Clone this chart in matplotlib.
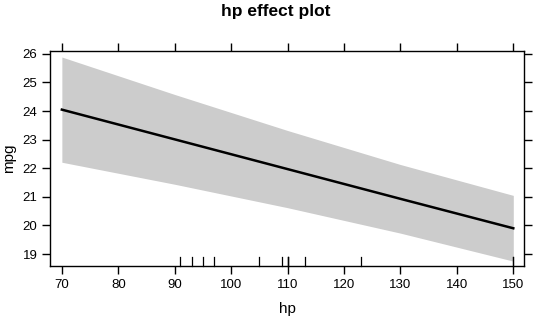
import matplotlib
matplotlib.use("Agg")
from matplotlib import pyplot as plt

plt.rcParams['font.family'] = ['Liberation Sans', 'DejaVu Sans']

# effect of hp on mpg, with confidence band
hp = [70, 90, 110, 130, 150]
fit = [24.05, 23.01, 21.97, 20.93, 19.90]
upper = [25.89, 24.58, 23.32, 22.13, 21.05]
lower = [22.21, 21.44, 20.62, 19.73, 18.75]

# observed hp values (rug)
rug_hp = [91, 93, 95, 97, 105, 109, 110, 110, 110, 113, 123, 150, 150]

x_ticks = [70, 80, 90, 100, 110, 120, 130, 140, 150]
y_ticks = [19, 20, 21, 22, 23, 24, 25, 26]

fig = plt.figure(figsize=(5.4, 3.25), dpi=100)
ax = fig.add_axes([0.0926, 0.1815, 0.8778, 0.6615])

ax.fill_between(hp, lower, upper, color='#cccccc', linewidth=0)
ax.plot(hp, fit, color='black', linewidth=1.8)

# rug along the bottom
for v in rug_hp:
    ax.plot([v, v], [0, 0.04], color='black', linewidth=0.9,
            transform=ax.get_xaxis_transform(), clip_on=False)

ax.set_xlim(67.9, 151.9)
ax.set_ylim(18.58, 26.1)
ax.set_xticks(x_ticks)
ax.set_yticks(y_ticks)

ax.tick_params(axis='both', direction='out', length=6, width=1, labelsize=9.5,
               top=True, right=True, labeltop=False, labelright=False, pad=3)
for s in ax.spines.values():
    s.set_linewidth(1)

ax.set_xlabel('hp', fontsize=11, labelpad=8)
ax.set_ylabel('mpg', fontsize=11, labelpad=5)
fig.text(0.511, 0.966, 'hp effect plot', ha='center', va='center',
         fontsize=12.5, fontweight='bold')

fig.savefig('out.png', dpi=100)
